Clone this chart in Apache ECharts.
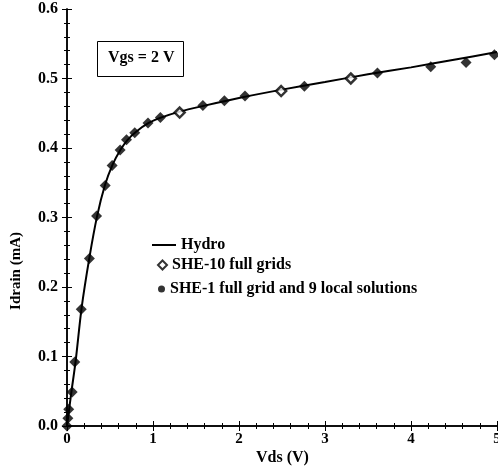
<!DOCTYPE html>
<html>
<head>
<meta charset="utf-8">
<script src="https://cdn.jsdelivr.net/npm/echarts@6/dist/echarts.min.js"></script>
<style>html,body{margin:0;padding:0;background:#fff}#c{width:498px;height:469px}</style>
</head>
<body>
<div id="c"></div>
<script>
// Hydro (continuous line)
const hydroVds = [0, 0.05, 0.1, 0.17, 0.26, 0.35, 0.44, 0.53, 0.62, 0.7, 0.8, 0.95, 1.1, 1.3, 1.6, 2.0, 2.5, 3.0, 3.5, 4.0, 4.5, 5.0];
const hydroId  = [0, 0.048, 0.093, 0.17, 0.242, 0.302, 0.346, 0.376, 0.397, 0.411, 0.423, 0.436, 0.444, 0.452, 0.461, 0.472, 0.484, 0.495, 0.506, 0.516, 0.527, 0.538];
// SHE-10 full grids (open diamonds)
const she10Vds = [1.31, 2.49, 3.30];
const she10Id  = [0.451, 0.482, 0.500];
// SHE-1 full grid and 9 local solutions (filled diamonds)
const she1Vds = [0, 0.01, 0.02, 0.06, 0.09, 0.166, 0.26, 0.344, 0.444, 0.525, 0.618, 0.692, 0.788, 0.942, 1.086, 1.58, 1.83, 2.07, 2.76, 3.61, 4.23, 4.64, 4.97];
const she1Id  = [0, 0.011, 0.024, 0.049, 0.092, 0.168, 0.241, 0.302, 0.346, 0.375, 0.397, 0.412, 0.422, 0.436, 0.444, 0.461, 0.468, 0.475, 0.489, 0.508, 0.517, 0.523, 0.534];
const xTicks = [0, 1, 2, 3, 4, 5];
const yTicks = [0, 0.1, 0.2, 0.3, 0.4, 0.5, 0.6];

const pair = (xs, ys) => xs.map((x, i) => [x, ys[i]]);
const FONT = 'Liberation Serif';
const axisCommon = {
  axisLine: {show: true, lineStyle: {color: '#000', width: 1.5}},
  axisTick: {show: true, inside: true, length: 5, lineStyle: {color: '#000', width: 1}},
  minorTick: {show: true, splitNumber: 5, length: 3, lineStyle: {color: '#000', width: 1}},
  splitLine: {show: false}
};
const legendText = {color: '#000', fontFamily: FONT, fontSize: 16, fontWeight: 'bold'};
const chart = echarts.init(document.getElementById('c'));
chart.setOption({
  animation: false,
  backgroundColor: '#fff',
  grid: {left: 67, right: 1, top: 9, bottom: 43, containLabel: false, outerBoundsMode: 'none'},
  xAxis: [
    Object.assign({type: 'value', min: xTicks[0], max: xTicks[xTicks.length - 1], interval: 1, position: 'bottom',
      axisLabel: {color: '#000', fontFamily: FONT, fontSize: 15, fontWeight: 'bold', margin: 6}}, axisCommon),
    Object.assign({type: 'value', min: xTicks[0], max: xTicks[xTicks.length - 1], interval: 1, position: 'top',
      axisLabel: {show: false}}, axisCommon)
  ],
  yAxis: [
    Object.assign({type: 'value', min: yTicks[0], max: yTicks[yTicks.length - 1], interval: 0.1, position: 'left',
      axisLabel: {color: '#000', fontFamily: FONT, fontSize: 16, fontWeight: 'bold', margin: 9, formatter: v => v.toFixed(1)}}, axisCommon),
    Object.assign({type: 'value', min: yTicks[0], max: yTicks[yTicks.length - 1], interval: 0.1, position: 'right',
      axisLabel: {show: false}}, axisCommon)
  ],
  legend: [
    {data: [{name: 'Hydro', icon: 'path://M0,0 L24,0 L24,2 L0,2 Z'}], left: 152, top: 237, padding: 0, itemWidth: 24, itemHeight: 2, itemGap: 0,
      textStyle: legendText},
    {data: ['SHE-10 full grids'], left: 157, top: 257, padding: 0, itemWidth: 9, itemHeight: 9, itemGap: 0,
      textStyle: legendText},
    {data: [{name: 'SHE-1 full grid and 9 local solutions', icon: 'circle'}], left: 158, top: 281, padding: 0, itemWidth: 7, itemHeight: 7, itemGap: 0,
      textStyle: legendText}
  ],
  graphic: [
    {type: 'rect', left: 97, top: 41, shape: {width: 86, height: 35}, style: {fill: '#fff', stroke: '#000', lineWidth: 1}},
    {type: 'text', left: 108, top: 50, style: {text: 'Vgs = 2 V', fill: '#000', font: 'bold 16px "Liberation Serif"'}},
    {type: 'text', left: 256, top: 450, style: {text: 'Vds (V)', fill: '#000', font: 'bold 16px "Liberation Serif"'}},
    {type: 'text', left: 9, top: 232, rotation: Math.PI / 2, style: {text: 'Idrain (mA)', fill: '#000', font: 'bold 15px "Liberation Serif"'}}
  ],
  series: [
    {name: 'Hydro', type: 'line', data: pair(hydroVds, hydroId), smooth: 0.3, showSymbol: false, symbol: 'none',
      lineStyle: {color: '#000', width: 2}, itemStyle: {color: '#000'}, z: 2},
    {name: 'SHE-1 full grid and 9 local solutions', type: 'scatter', data: pair(she1Vds, she1Id), symbol: 'diamond', symbolSize: 11,
      itemStyle: {color: '#000'}, z: 3},
    {name: 'SHE-10 full grids', type: 'scatter', data: pair(she10Vds, she10Id), symbol: 'diamond', symbolSize: 10,
      itemStyle: {color: '#fff', borderColor: '#000', borderWidth: 2.5}, z: 4}
  ]
});
</script>
</body>
</html>
